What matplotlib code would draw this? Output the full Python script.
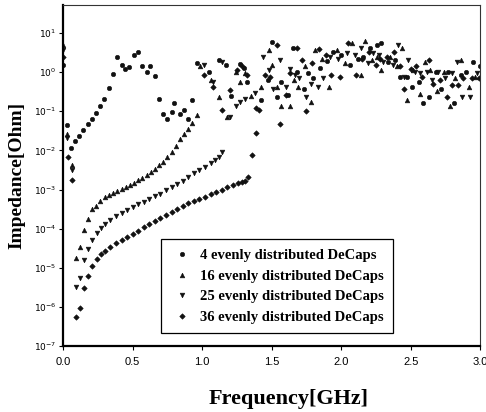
import matplotlib
matplotlib.use("Agg")
import matplotlib.pyplot as plt
from matplotlib.ticker import LogLocator, FixedLocator

# === DATA ===
# 4 evenly distributed DeCaps
freq_4 = [0.0, 0.026, 0.058, 0.086, 0.115, 0.146, 0.175, 0.206, 0.235, 0.266, 0.297,
          0.329, 0.36, 0.388, 0.42, 0.448, 0.477, 0.508, 0.537, 0.568, 0.60, 0.628,
          0.66, 0.688, 0.72, 0.75, 0.78, 0.80, 0.837, 0.868, 0.90, 0.93,
          0.962, 1.05, 1.12, 1.17, 1.21, 1.27, 1.30, 1.32, 1.42, 1.47, 1.50, 1.54,
          1.57, 1.62, 1.65, 1.68, 1.73, 1.76, 1.80, 1.85, 1.90, 1.94, 2.00, 2.06,
          2.12, 2.16, 2.21, 2.26, 2.29, 2.34, 2.39, 2.42, 2.47, 2.51, 2.56, 2.59,
          2.63, 2.68, 2.72, 2.77, 2.81, 2.86, 2.90, 2.95, 3.00]
imp_4 = [1.5, 0.044, 0.0115, 0.0174, 0.024, 0.034, 0.047, 0.063, 0.091, 0.135, 0.21,
         0.39, 0.89, 2.4, 1.48, 1.17, 1.35, 2.75, 3.2, 1.41, 1.0, 1.41,
         0.81, 0.20, 0.083, 0.062, 0.095, 0.158, 0.083, 0.11, 0.065, 0.19,
         1.7, 1.0, 2.0, 1.5, 0.25, 1.6, 1.3, 0.56, 0.19, 0.63, 6.0, 0.23,
         0.56, 0.26, 4.1, 1.0, 0.38, 0.93, 0.69, 1.3, 1.9, 3.3, 2.8, 1.5,
         2.2, 2.5, 4.1, 4.9, 5.5, 1.8, 2.0, 0.76, 0.76, 0.42, 0.56, 0.16,
         0.23, 1.0, 0.38, 1.0, 0.16, 0.83, 1.0, 1.8, 1.4]

# 16 evenly distributed DeCaps
freq_16 = [0.0, 0.03, 0.067, 0.094, 0.122, 0.151, 0.182, 0.206, 0.235, 0.266, 0.30,
           0.33, 0.36, 0.39, 0.42, 0.45, 0.48, 0.51, 0.54, 0.57, 0.60, 0.63, 0.66,
           0.69, 0.72, 0.75, 0.78, 0.81, 0.84, 0.87, 0.90, 0.93, 0.96,
           0.986, 1.06, 1.12, 1.18, 1.24, 1.27, 1.31, 1.35, 1.42, 1.48, 1.50, 1.54,
           1.57, 1.63, 1.66, 1.69, 1.74, 1.78, 1.81, 1.86, 1.91, 1.97, 2.03, 2.08,
           2.14, 2.17, 2.22, 2.26, 2.29, 2.35, 2.40, 2.44, 2.47, 2.52, 2.57, 2.60,
           2.64, 2.69, 2.74, 2.78, 2.82, 2.86, 2.92, 2.96]
imp_16 = [4.9, 0.027, 0.0042, 1.74e-5, 3.5e-5, 9.3e-5, 1.8e-4, 3.2e-4, 3.9e-4, 5.2e-4, 6.3e-4,
          7.2e-4, 8.1e-4, 9.1e-4, 1.05e-3, 1.17e-3, 1.32e-3, 1.51e-3, 1.74e-3, 2.0e-3, 2.34e-3, 2.8e-3, 3.4e-3,
          4.2e-3, 5.2e-3, 6.8e-3, 9.1e-3, 0.0132, 0.019, 0.026, 0.035, 0.051, 0.079,
          1.4, 0.63, 0.23, 0.071, 1.0, 0.56, 0.93, 0.25, 0.42, 3.6, 1.5, 0.42,
          0.14, 0.14, 0.62, 0.42, 1.4, 0.17, 3.6, 2.2, 0.42, 3.6, 1.7, 5.5,
          0.83, 6.2, 2.0, 2.5, 1.1, 2.5, 1.4, 4.1, 0.19, 1.1, 0.28, 1.8,
          1.1, 0.32, 1.0, 0.14, 0.69, 2.0, 0.42, 0.76]

# 25 evenly distributed DeCaps
freq_25 = [0.0, 0.03, 0.067, 0.094, 0.122, 0.151, 0.182, 0.21, 0.24, 0.27, 0.30,
           0.34, 0.38, 0.42, 0.46, 0.50, 0.54, 0.58, 0.62, 0.66, 0.70, 0.74, 0.78,
           0.82, 0.86, 0.90, 0.94, 0.98, 1.02, 1.06, 1.09, 1.12, 1.146,
           1.01, 1.08, 1.14, 1.20, 1.24, 1.27, 1.31, 1.38, 1.44, 1.48, 1.51, 1.56,
           1.60, 1.63, 1.67, 1.70, 1.75, 1.78, 1.83, 1.87, 1.92, 1.98, 2.04, 2.10,
           2.14, 2.19, 2.23, 2.27, 2.30, 2.37, 2.41, 2.45, 2.48, 2.53, 2.57, 2.62,
           2.65, 2.70, 2.75, 2.80, 2.83, 2.87, 2.93, 2.98]
imp_25 = [3.6, 0.021, 0.0031, 3.2e-6, 5.4e-6, 1.62e-5, 3.0e-5, 5.0e-5, 7.6e-5, 1.05e-4, 1.32e-4,
          1.66e-4, 2.1e-4, 2.5e-4, 3.0e-4, 3.5e-4, 4.2e-4, 4.9e-4, 5.8e-4, 6.8e-4, 7.9e-4, 9.5e-4, 1.15e-3,
          1.38e-3, 1.7e-3, 2.1e-3, 2.6e-3, 3.2e-3, 3.8e-3, 4.7e-3, 5.8e-3, 6.6e-3, 9.1e-3,
          1.5, 0.56, 1.8, 0.071, 0.14, 0.17, 0.20, 0.30, 2.5, 1.1, 0.38, 2.0,
          0.42, 1.2, 0.83, 0.69, 0.23, 0.51, 0.42, 0.69, 2.5, 2.2, 3.0, 2.8,
          4.1, 1.7, 3.0, 2.8, 1.8, 1.5, 4.9, 0.76, 2.0, 1.0, 0.93, 1.0,
          0.62, 1.0, 0.69, 0.93, 1.8, 0.23, 0.23, 0.93]

# 36 evenly distributed DeCaps
freq_36 = [0.0, 0.034, 0.067, 0.094, 0.122, 0.151, 0.182, 0.21, 0.24, 0.27, 0.30,
           0.34, 0.38, 0.42, 0.46, 0.50, 0.54, 0.58, 0.62, 0.66, 0.70, 0.74, 0.78,
           0.82, 0.86, 0.90, 0.94, 0.98, 1.02, 1.06, 1.10, 1.14, 1.18, 1.22, 1.26,
           1.29, 1.31, 1.33, 1.36, 1.39, 1.41,
           1.01, 1.08, 1.14, 1.20, 1.25, 1.29, 1.32, 1.39, 1.45, 1.49, 1.54, 1.56,
           1.60, 1.63, 1.68, 1.72, 1.75, 1.79, 1.84, 1.89, 1.93, 1.99, 2.05, 2.11,
           2.15, 2.20, 2.25, 2.28, 2.33, 2.38, 2.42, 2.45, 2.50, 2.54, 2.58, 2.63,
           2.66, 2.71, 2.76, 2.80, 2.84, 2.88, 2.94, 2.99]
imp_36 = [2.4, 0.0068, 0.0018, 5.6e-7, 9.5e-7, 3.0e-6, 6.0e-6, 1.12e-5, 1.66e-5, 2.2e-5, 2.75e-5,
          3.4e-5, 4.2e-5, 5.0e-5, 6.0e-5, 7.2e-5, 8.7e-5, 1.1e-4, 1.32e-4, 1.58e-4, 1.86e-4, 2.2e-4, 2.6e-4,
          3.2e-4, 3.8e-4, 4.4e-4, 5.0e-4, 5.8e-4, 6.6e-4, 7.6e-4, 8.5e-4, 1.0e-3, 1.15e-3, 1.32e-3, 1.45e-3,
          1.58e-3, 1.7e-3, 2.1e-3, 7.6e-3, 0.028, 0.11,
          0.83, 0.42, 0.11, 0.35, 1.1, 1.4, 0.83, 0.12, 0.83, 0.76, 4.9, 0.048,
          0.26, 0.93, 4.1, 2.0, 0.10, 1.7, 3.9, 2.8, 0.83, 0.76, 5.5, 0.83,
          2.2, 3.3, 1.5, 2.2, 2.5, 3.3, 1.4, 0.38, 1.2, 1.4, 0.76, 2.0,
          0.51, 0.62, 0.23, 0.47, 0.47, 0.69, 0.69, 0.69]

series_labels = ["4 evenly distributed DeCaps", "16 evenly distributed DeCaps",
                 "25 evenly distributed DeCaps", "36 evenly distributed DeCaps"]
x_ticks = [0.0, 0.5, 1.0, 1.5, 2.0, 2.5, 3.0]

# === PLOT ===
fig = plt.figure(figsize=(4.86, 4.12), dpi=100)
ax = fig.add_axes([0.130, 0.160, 0.858, 0.828])

series = [(freq_4, imp_4, 'o', 3.2), (freq_16, imp_16, '^', 3.4),
          (freq_25, imp_25, 'v', 3.4), (freq_36, imp_36, 'D', 2.8)]
for (f, z, m, ms), lab in zip(series, series_labels):
    ax.plot(f, z, linestyle='none', marker=m, markersize=ms, color='#111111',
            markeredgewidth=0.4, label=lab)

ax.set_yscale('log')
ax.set_xlim(0.0, 3.0)
ax.set_ylim(1e-7, 52)
ax.yaxis.set_major_locator(LogLocator(base=10, numticks=20))
ax.yaxis.set_minor_locator(FixedLocator([]))
ax.xaxis.set_major_locator(FixedLocator(x_ticks))
ax.set_xticklabels([f"{t:.1f}" for t in x_ticks], family='Liberation Sans', fontsize=8)

ax.tick_params(axis='y', which='major', direction='out', length=3, width=0.8,
               labelsize=6.5, pad=2)
ax.tick_params(axis='x', which='major', direction='out', length=3, width=0.8, pad=5)

for side in ['left', 'bottom']:
    ax.spines[side].set_linewidth(1.6)
for side in ['top', 'right']:
    ax.spines[side].set_linewidth(0.8)
    ax.spines[side].set_color('#333333')

ax.set_xlabel('Frequency[GHz]', family='Liberation Serif', fontweight='bold',
              fontsize=16)
ax.xaxis.set_label_coords(0.54, -0.125)
ax.set_ylabel('Impedance[Ohm]', family='Liberation Serif', fontweight='bold',
              fontsize=14, labelpad=6)

leg = ax.legend(loc='lower left', bbox_to_anchor=(0.235, 0.038), borderaxespad=0,
                prop={'family': 'Liberation Serif', 'weight': 'bold', 'size': 10.5},
                frameon=True, fancybox=False, edgecolor='black', framealpha=1,
                labelspacing=0.5, handletextpad=0.5, borderpad=0.65, handlelength=1.5)
leg.get_frame().set_linewidth(0.9)

plt.savefig('out.png', dpi=100)
